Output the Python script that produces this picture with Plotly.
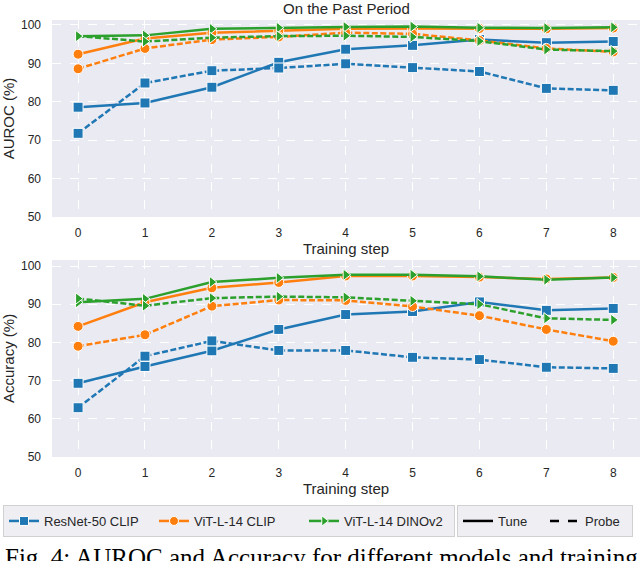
import plotly.graph_objects as go

steps = [0, 1, 2, 3, 4, 5, 6, 7, 8]
models = ["ResNet-50 CLIP", "ViT-L-14 CLIP", "ViT-L-14 DINOv2"]

# AUROC on the past period
auroc_resnet_tune = [78.6, 79.7, 83.8, 90.3, 93.7, 94.7, 96.2, 95.4, 95.7]
auroc_resnet_probe = [71.8, 84.9, 88.1, 88.8, 89.9, 88.9, 87.9, 83.5, 83.0]
auroc_vit_tune = [92.4, 96.5, 98.0, 98.5, 99.0, 99.1, 99.1, 99.0, 99.2]
auroc_vit_probe = [88.6, 93.9, 96.2, 96.9, 98.0, 97.7, 96.0, 93.9, 93.0]
auroc_dino_tune = [97.1, 97.3, 99.0, 99.3, 99.5, 99.6, 99.3, 99.2, 99.4]
auroc_dino_probe = [97.1, 95.7, 96.7, 97.1, 97.2, 96.9, 95.8, 93.6, 93.2]

# Accuracy
acc_resnet_tune = [69.3, 73.7, 77.8, 83.4, 87.3, 88.1, 90.6, 88.4, 88.9]
acc_resnet_probe = [62.9, 76.4, 80.4, 77.9, 77.9, 76.1, 75.5, 73.5, 73.2]
acc_vit_tune = [84.2, 90.5, 94.3, 95.7, 97.4, 97.4, 97.1, 96.6, 97.0]
acc_vit_probe = [79.0, 82.0, 89.5, 91.1, 91.0, 89.4, 87.0, 83.4, 80.3]
acc_dino_tune = [90.5, 91.4, 95.8, 96.9, 97.7, 97.7, 97.3, 96.4, 97.0]
acc_dino_probe = [91.5, 89.6, 91.6, 92.0, 91.8, 90.9, 90.0, 86.3, 85.9]

colors = ["#1f77b4", "#ff7f0e", "#2ca02c"]
symbols = ["square", "circle", "triangle-right"]
dash_probe = "6px,2.5px"

panels = [
    ("y", [(auroc_resnet_tune, auroc_resnet_probe), (auroc_vit_tune, auroc_vit_probe),
           (auroc_dino_tune, auroc_dino_probe)]),
    ("y2", [(acc_resnet_tune, acc_resnet_probe), (acc_vit_tune, acc_vit_probe),
            (acc_dino_tune, acc_dino_probe)]),
]

fig = go.Figure()
for yax, series in panels:
    xax = "x" if yax == "y" else "x2"
    for i, (tune, probe) in enumerate(series):
        for vals, dash in [(tune, "solid"), (probe, dash_probe)]:
            fig.add_trace(go.Scatter(
                x=steps, y=vals, xaxis=xax, yaxis=yax, mode="lines+markers",
                line=dict(color=colors[i], width=2.5, dash=dash),
                marker=dict(symbol=symbols[i], size=10, color=colors[i],
                            line=dict(color="white", width=1)),
                showlegend=False, cliponaxis=False))

# legend entries
for i, m in enumerate(models):
    fig.add_trace(go.Scatter(
        x=[None], y=[None], mode="lines+markers", name=m, legend="legend",
        line=dict(color=colors[i], width=2.5),
        marker=dict(symbol=symbols[i], size=9, color=colors[i],
                    line=dict(color="white", width=1))))
for name, dash in [("Tune", "solid"), ("Probe", "dash")]:
    fig.add_trace(go.Scatter(
        x=[None], y=[None], mode="lines", name=name, legend="legend2",
        line=dict(color="black", width=2.5, dash=dash)))

H = 561
gray = "#eaeaf2"
axis_common = dict(
    showgrid=True, gridcolor="white", griddash="dash", gridwidth=1,
    zeroline=False, showline=False, ticks="", automargin=False,
    tickfont=dict(size=12, color="#262626"),
    title_font=dict(size=15, color="#262626"),
)


def py(pix):
    # pixel row -> paper fraction (plot area spans rows 20..457)
    return (457 - pix) / 437


def px(pix):
    return (pix - 52) / 588


fig.update_layout(
    width=640, height=H,
    margin=dict(l=52, r=0, t=20, b=104),
    paper_bgcolor="white", plot_bgcolor=gray,
    font=dict(family="Liberation Sans, Arial, sans-serif", color="#262626"),
    xaxis=dict(domain=[0, 1], anchor="y", range=[-0.39, 8.4], tickvals=steps,
               ticklabelstandoff=7, title=dict(text="Training step", standoff=1),
               **axis_common),
    yaxis=dict(domain=[0.549, 1], anchor="x", range=[50, 101.3],
               tickvals=[50, 60, 70, 80, 90, 100], ticklabelstandoff=10,
               title=dict(text="AUROC (%)", standoff=4), **axis_common),
    xaxis2=dict(domain=[0, 1], anchor="y2", range=[-0.39, 8.4], tickvals=steps,
                ticklabelstandoff=7, title=dict(text="Training step", standoff=3),
                **axis_common),
    yaxis2=dict(domain=[0, 0.451], anchor="x2", range=[50, 101.6],
                tickvals=[50, 60, 70, 80, 90, 100], ticklabelstandoff=10,
                title=dict(text="Accuracy (%)", standoff=4), **axis_common),
    annotations=[
        dict(text="On the Past Period", xref="paper", yref="paper",
             x=0.5, y=py(8), xanchor="center", yanchor="middle",
             showarrow=False, font=dict(size=15, color="#262626")),
        dict(text="Fig. 4: AUROC and Accuracy for different models and training",
             xref="paper", yref="paper", x=px(3), y=py(542),
             xanchor="left", yanchor="top", showarrow=False, align="left",
             font=dict(family="Liberation Serif, Times New Roman, serif",
                       size=25, color="black")),
    ],
    legend=dict(orientation="h", xref="container", yref="container",
                x=3 / 640, y=1 - 505 / H, xanchor="left", yanchor="top",
                bgcolor="#eeeef3", bordercolor="#d0d0d0", borderwidth=1,
                font=dict(size=13, color="#262626"), entrywidth=105,
                itemwidth=30, tracegroupgap=0),
    legend2=dict(orientation="h", xref="container", yref="container",
                 x=457 / 640, y=1 - 505 / H, xanchor="left", yanchor="top",
                 bgcolor="#eeeef3", bordercolor="#d0d0d0", borderwidth=1,
                 font=dict(size=13, color="#262626"), entrywidth=42,
                 itemwidth=30),
)

# page body has a default 8px margin; drop it so the figure fills the window
fig.write_html("out.html", config={"displayModeBar": False},
               post_script="document.body.style.margin='0';")
